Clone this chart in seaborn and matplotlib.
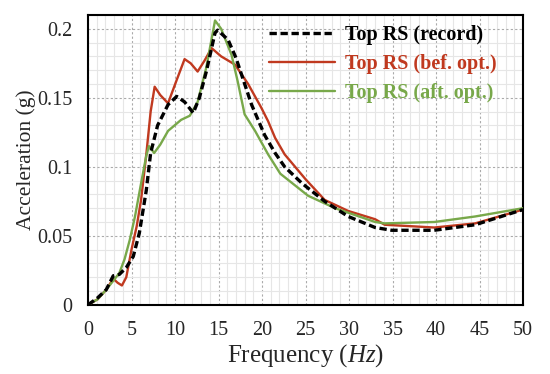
import pandas as pd
import matplotlib
matplotlib.use("Agg")
import matplotlib.pyplot as plt
from matplotlib.ticker import MultipleLocator
import seaborn as sns

# record response spectrum
freq_rec = [0, 1.1, 2.1, 2.9, 3.6, 4.4, 5.2, 5.9, 6.7, 7.2, 8.0, 9.2, 10.2, 11.1,
            12.1, 12.8, 13.6, 14.6, 14.9, 16.1, 17.0, 18.8, 20.3, 21.5, 22.6,
            24.6, 27.2, 29.9, 33.0, 34.9, 39.8, 44.5, 50]
acc_rec = [0, 0.005, 0.011, 0.021, 0.022, 0.027, 0.035, 0.052, 0.083, 0.110,
           0.130, 0.145, 0.151, 0.147, 0.139, 0.150, 0.169, 0.197, 0.199, 0.192,
           0.179, 0.145, 0.123, 0.110, 0.100, 0.088, 0.075, 0.064, 0.056, 0.054,
           0.054, 0.058, 0.069]

# before optimisation
freq_bef = [0, 1.1, 2.1, 2.9, 3.4, 3.9, 4.4, 5.0, 5.6, 6.1, 6.7, 7.2, 7.66, 8.3,
            9.2, 10.2, 11.1, 11.8, 12.6, 13.4, 14.2, 15.3, 16.9, 18.4, 19.9,
            20.7, 21.5, 22.6, 25.0, 27.2, 29.9, 33.0, 34.1, 39.8, 44.5, 50]
acc_bef = [0, 0.004, 0.011, 0.019, 0.016, 0.014, 0.020, 0.040, 0.057, 0.076,
           0.109, 0.140, 0.158, 0.152, 0.146, 0.163, 0.178, 0.175, 0.169, 0.177,
           0.186, 0.180, 0.174, 0.160, 0.143, 0.133, 0.121, 0.109, 0.091, 0.076,
           0.068, 0.062, 0.058, 0.056, 0.059, 0.069]

# after optimisation
freq_aft = [0, 1.1, 2.1, 3.1, 3.6, 4.2, 4.8, 5.4, 6.1, 6.7, 7.0, 7.6, 8.3, 9.2,
            10.7, 11.7, 12.6, 13.6, 14.6, 15.3, 16.5, 17.2, 18.0, 19.2, 20.7,
            22.1, 25.3, 28.4, 33.0, 34.1, 39.8, 44.5, 50]
acc_aft = [0, 0.004, 0.011, 0.019, 0.023, 0.033, 0.047, 0.064, 0.088, 0.108,
           0.115, 0.110, 0.116, 0.126, 0.134, 0.137, 0.147, 0.172, 0.206, 0.200,
           0.181, 0.162, 0.138, 0.126, 0.109, 0.095, 0.079, 0.070, 0.060, 0.059,
           0.060, 0.064, 0.070]

labels = ["Top RS (record)", "Top RS (bef. opt.)", "Top RS (aft. opt.)"]

sns.set_style("white")
plt.rcParams["font.family"] = ["Liberation Serif", "DejaVu Serif"]
plt.rcParams["mathtext.fontset"] = "custom"
plt.rcParams["mathtext.it"] = "Liberation Serif:italic"
plt.rcParams["mathtext.rm"] = "Liberation Serif"

fig, ax = plt.subplots(figsize=(5.5, 3.74), dpi=100)
fig.subplots_adjust(left=0.16, right=0.951, bottom=0.185, top=0.96)

df_rec = pd.DataFrame({"f": freq_rec, "a": acc_rec})
df_bef = pd.DataFrame({"f": freq_bef, "a": acc_bef})
df_aft = pd.DataFrame({"f": freq_aft, "a": acc_aft})

sns.lineplot(data=df_rec, x="f", y="a", ax=ax, color="black", linewidth=2.4,
             label=labels[0], zorder=4)
ax.lines[-1].set_dashes([2.2, 1.1])
sns.lineplot(data=df_bef, x="f", y="a", ax=ax, color="#C0391F", linewidth=1.7,
             label=labels[1], zorder=3)
sns.lineplot(data=df_aft, x="f", y="a", ax=ax, color="#78A84A", linewidth=1.7,
             label=labels[2], zorder=3)

ax.set_xlim(0, 50)
ax.set_ylim(0, 0.21)
ax.xaxis.set_major_locator(MultipleLocator(5))
ax.xaxis.set_minor_locator(MultipleLocator(1))
ax.yaxis.set_minor_locator(MultipleLocator(0.01))
ax.set_yticks([0, 0.05, 0.1, 0.15, 0.2])
ax.set_yticklabels(["0", "0.05", "0.1", "0.15", "0.2"])

ax.grid(which="minor", color="#e6e6e6", linewidth=0.8, linestyle="-")
ax.grid(which="major", color="#aaaaaa", linewidth=0.8, linestyle=(0, (2, 2)))
ax.set_axisbelow(True)

ax.tick_params(which="both", length=0, labelsize=14.5)
ax.tick_params(axis="y", pad=11)
ax.tick_params(axis="x", pad=12)
for s in ax.spines.values():
    s.set_linewidth(1.5)
    s.set_color("black")

ax.set_xlabel("Frequency ($\\mathit{Hz}$)", fontsize=18, labelpad=1)
ax.set_ylabel("Acceleration (g)", fontsize=15.5, labelpad=1)

leg = ax.legend(loc="upper right", bbox_to_anchor=(0.972, 1.014), frameon=False,
                handlelength=3.3, prop={"weight": "bold", "size": 14.5},
                labelcolor="linecolor", borderaxespad=0.3, labelspacing=0.45,
                handletextpad=0.5)

plt.savefig("out.png", dpi=100)
